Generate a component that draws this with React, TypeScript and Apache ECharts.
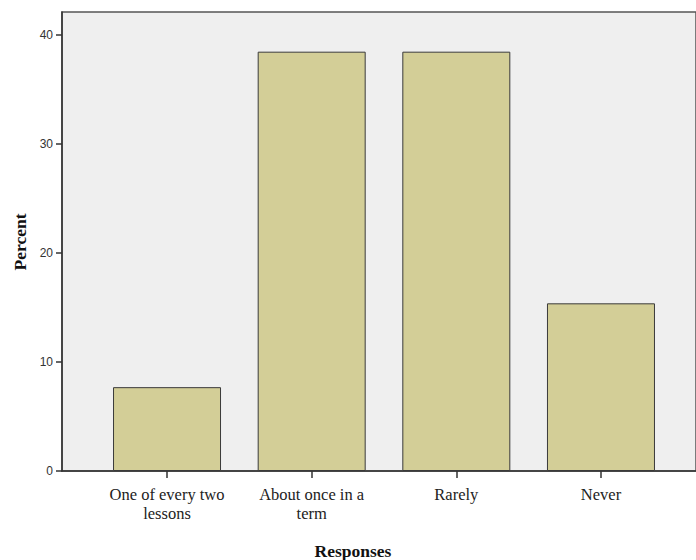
import React, { useEffect, useRef } from "react";
import * as echarts from "echarts";

const categories = ["One of every two\nlessons", "About once in a\nterm", "Rarely", "Never"];
const percents = [7.69, 38.46, 38.46, 15.38];
const yTicks = [0, 10, 20, 30, 40];
const xTitle = "Responses";
const yTitle = "Percent";

export default function App() {
  const ref = useRef<HTMLDivElement>(null);
  useEffect(() => {
    if (!ref.current) return;
    const chart = echarts.init(ref.current, null, { renderer: "svg" });
    const yMax = 42.1;
    chart.setOption({
      animation: false,
      backgroundColor: "#ffffff",
      grid: [
        {
          left: 62,
          top: 12,
          width: 644,
          height: 459,
          show: true,
          backgroundColor: "#efefef",
          borderColor: "#555555",
          borderWidth: 1.5,
        },
        { left: 94.7, top: 12, width: 578.6, height: 459 },
      ],
      xAxis: [
        {
          type: "value",
          gridIndex: 0,
          min: 0,
          max: 1,
          axisLine: { show: true, lineStyle: { color: "#333333", width: 1.5 } },
          axisTick: { show: false },
          axisLabel: { show: false },
          splitLine: { show: false },
        },
        {
          type: "category",
          gridIndex: 1,
          data: categories,
          axisLine: { show: false },
          axisTick: { show: true, alignWithLabel: true, length: 7, lineStyle: { color: "#333333", width: 1.5 } },
          axisLabel: {
            interval: 0,
            margin: 14,
            fontFamily: "Liberation Serif",
            fontSize: 16.5,
            lineHeight: 19,
            color: "#222222",
          },
          splitLine: { show: false },
        },
      ],
      yAxis: [
        {
          type: "value",
          gridIndex: 0,
          min: 0,
          max: yMax,
          axisLine: { show: true, lineStyle: { color: "#333333", width: 1.5 } },
          axisTick: { show: true, length: 6, customValues: yTicks, lineStyle: { color: "#333333", width: 1.5 } },
          axisLabel: {
            customValues: yTicks,
            margin: 9,
            fontFamily: "Liberation Sans",
            fontSize: 12,
            color: "#333333",
          },
          splitLine: { show: false },
        },
        {
          type: "value",
          gridIndex: 1,
          min: 0,
          max: yMax,
          show: false,
          splitLine: { show: false },
        },
      ],
      series: [
        {
          type: "bar",
          xAxisIndex: 1,
          yAxisIndex: 1,
          data: percents,
          barWidth: 108,
          itemStyle: { color: "#d3ce97", borderColor: "#3a3a3a", borderWidth: 1 },
        },
      ],
      graphic: [
        {
          type: "text",
          x: 353,
          y: 551,
          style: {
            text: xTitle,
            fontFamily: "Liberation Serif",
            fontWeight: "bold",
            fontSize: 17.5,
            fill: "#111111",
            align: "center",
            verticalAlign: "middle",
          },
        },
        {
          type: "text",
          x: 20,
          y: 242,
          rotation: Math.PI / 2,
          style: {
            text: yTitle,
            fontFamily: "Liberation Serif",
            fontWeight: "bold",
            fontSize: 17.5,
            fill: "#111111",
            align: "center",
            verticalAlign: "middle",
          },
        },
      ],
    });
    return () => chart.dispose();
  }, []);
  return <div ref={ref} style={{ position: "fixed", left: 0, top: 0, width: 696, height: 560 }} />;
}
